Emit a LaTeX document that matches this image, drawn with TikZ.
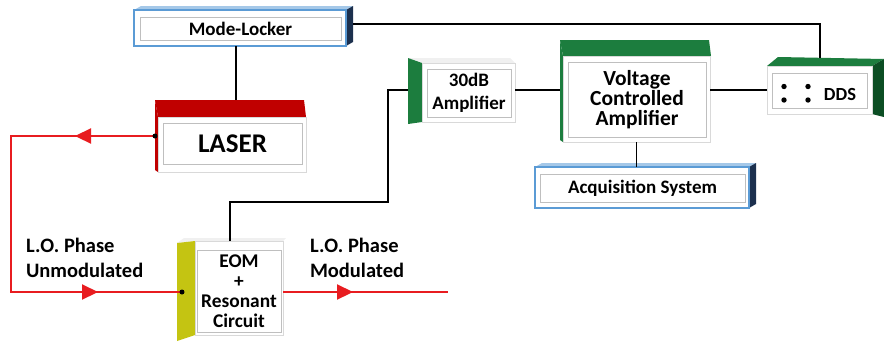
\documentclass[tikz,border=0pt]{standalone}
\usepackage{fontspec}
\setmainfont{Carlito}
\usetikzlibrary{calc,arrows.meta,decorations.markings}
\definecolor{mlblue}{RGB}{91,155,213}
\definecolor{mlside}{RGB}{28,48,78}
\definecolor{mltop}{RGB}{165,200,232}
\definecolor{boxgreen}{RGB}{28,125,62}
\definecolor{darkgreen}{RGB}{12,78,36}
\definecolor{laserred}{RGB}{192,0,0}
\definecolor{eomyellow}{RGB}{196,196,18}
\definecolor{beamred}{RGB}{232,28,32}
\begin{document}
\begin{tikzpicture}[x=1pt,y=-1pt,
  front/.style={draw=gray!30, line width=0.6pt, fill=white, inner sep=0pt, outer sep=0pt, anchor=north west},
  bluefront/.style={front, draw=mlblue, line width=1.3pt},
  lab/.style={inner sep=0pt, outer sep=0pt, draw=gray!50, line width=0.9pt, fill=white, align=center, text=black},
  txt/.style={inner sep=0pt, outer sep=0pt, text=black},
  wire/.style={line width=1.8pt, black},
  beam/.style={line width=2.2pt, beamred, line join=miter},
  port/.style={circle, fill=black, inner sep=0pt, minimum size=5pt}
]
\useasboundingbox (0,0) rectangle (884,341);

% ---------- Mode-Locker ----------
\fill[mltop] (134,10) -- (141,6) -- (353,6) -- (346,10) -- cycle;
\fill[mlside] (346,10) -- (353,6) -- (353,42) -- (346,46) -- cycle;
\node[bluefront, minimum width=212pt, minimum height=36pt] (ml) at (134,10) {};
\node[lab, minimum width=201pt, minimum height=23pt, font=\bfseries\fontsize{19}{22}\selectfont] (mlt) at (240.5,28.5) {Mode-Locker};

% ---------- LASER ----------
\fill[laserred] (155,100) -- (304,100) -- (306,117) -- (158,117) -- cycle;
\fill[laserred] (155,100) -- (158,117) -- (158,172) -- (155,170) -- cycle;
\node[front, minimum width=148pt, minimum height=55pt] (laser) at (158,117) {};
\node[lab, minimum width=139pt, minimum height=41pt, font=\bfseries\fontsize{27}{30}\selectfont] (lasert) at (232.5,143.5) {LASER};

% ---------- EOM ----------
\fill[gray!12] (177,243) -- (184,238) -- (286,238) -- (283,241) -- (195,241) -- cycle;
\fill[eomyellow] (177,243) -- (195,241) -- (195,335) -- (177,341) -- cycle;
\node[front, minimum width=88pt, minimum height=94pt] (eom) at (195,241) {};
\node[lab, minimum width=84pt, minimum height=82pt, font=\bfseries\fontsize{19.4}{20}\selectfont] (eomt) at (239,291.5) {EOM\\+\\Resonant\\Circuit};

% ---------- 30dB Amplifier ----------
\fill[gray!12] (408,58) -- (510,58) -- (515,63) -- (422,63) -- cycle;
\fill[boxgreen] (408,58) -- (422,63) -- (422,122) -- (408,124) -- cycle;
\node[front, minimum width=93pt, minimum height=59pt] (amp) at (422,63) {};
\node[lab, minimum width=84pt, minimum height=48pt, font=\bfseries\fontsize{19}{23}\selectfont] (ampt) at (469,93) {30dB\\Amplifier};

% ---------- Voltage Controlled Amplifier ----------
\fill[boxgreen] (560,40) -- (709,40) -- (711,56) -- (563,56) -- cycle;
\fill[boxgreen] (560,40) -- (563,56) -- (563,142) -- (560,140) -- cycle;
\node[front, minimum width=147pt, minimum height=86pt] (vca) at (563,56) {};
\node[lab, minimum width=138pt, minimum height=75pt, font=\bfseries\fontsize{21.5}{20}\selectfont] (vcat) at (637,99.5) {Voltage\\Controlled\\Amplifier};

% ---------- Acquisition System ----------
\fill[mltop] (535,167) -- (542,163) -- (756,163) -- (749,167) -- cycle;
\fill[mlside] (749,167) -- (756,163) -- (756,204) -- (749,208) -- cycle;
\node[bluefront, minimum width=214pt, minimum height=41pt] (acq) at (535,167) {};
\node[lab, minimum width=205pt, minimum height=28pt, font=\bfseries\fontsize{19}{22}\selectfont] (acqt) at (642.5,188) {Acquisition System};

% ---------- DDS ----------
\fill[boxgreen] (767,66) -- (778,57) -- (884,59) -- (872,66) -- cycle;
\fill[darkgreen] (872,66) -- (884,59) -- (884,117) -- (872,114) -- cycle;
\node[front, minimum width=105pt, minimum height=48pt] (dds) at (767,66) {};
\node[lab, minimum width=95pt, minimum height=35pt] (ddsbox) at (819.5,90.5) {};
\foreach \dx in {784,808} \foreach \dy in {86.5,100} \fill[black] (\dx,\dy) circle[radius=2.7pt];
\node[txt, font=\bfseries\fontsize{18.5}{22}\selectfont] (ddst) at (840,94) {DDS};

% ---------- connection points ----------
\coordinate (mlright) at (353,24);
\coordinate (ddstop) at (820,58);
\coordinate (lasertop) at (236,100);
\coordinate (laserport) at (155,136);
\coordinate (eomport) at (182,292);
\coordinate (eomout) at (283,292);
\coordinate (beamend) at (448,292);
\coordinate (eomtop) at (230,241);
\coordinate (ampport) at (408,90);
\coordinate (vcaport) at (560,90);
\coordinate (ddsport) at (767,90);

% ---------- black wires ----------
\draw[wire] (ml.south -| lasertop) -- (lasertop);
\draw[wire] (mlright) -| (ddstop);
\draw[wire] (eomtop) -- ++(0,-39) -- ++(158,0) |- (ampport);
\draw[wire] (vcaport -| amp.east) -- (vcaport);
\draw[wire] (ddsport -| vca.east) -- (ddsport);
\draw[wire] (vca.south) -- (vca.south |- acq.north);

% ---------- red beam ----------
\draw[beam, postaction={decorate}, decoration={markings,
    mark=at position 80pt with {\arrow[beamred]{Triangle[length=16pt,width=15pt]}},
    mark=at position 387pt with {\arrow[beamred]{Triangle[length=16pt,width=15pt]}}}]
  (laserport) -- (11,136) -- (11,292) -- (eomport);
\draw[beam, postaction={decorate}, decoration={markings,
    mark=at position 70pt with {\arrow[beamred]{Triangle[length=16pt,width=15pt]}}}]
  (eomout) -- (beamend);
\node[port] (p1) at (laserport) {};
\node[port] (p2) at (eomport) {};

% ---------- labels ----------
\node[txt, anchor=west, align=left, font=\bfseries\fontsize{20.5}{25}\selectfont] (lbl1) at (26,258) {L.O. Phase\\Unmodulated};
\node[txt, anchor=west, align=left, font=\bfseries\fontsize{20.5}{25}\selectfont] (lbl2) at (310,258) {L.O. Phase\\Modulated};
\end{tikzpicture}
\end{document}
